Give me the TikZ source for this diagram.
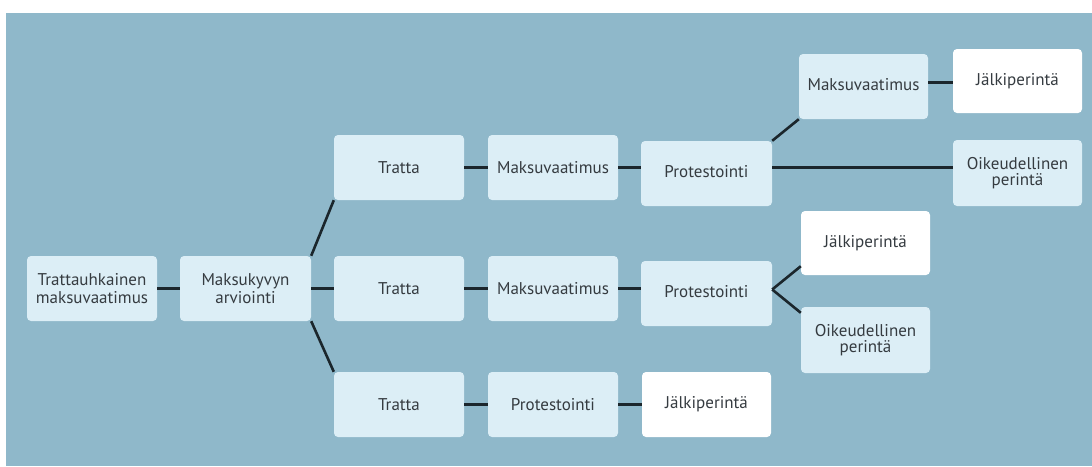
\documentclass[tikz,border=0pt]{standalone}
\usepackage{fontspec}
\setmainfont{PT Sans}
\definecolor{bgblue}{HTML}{8FB8CA}
\definecolor{boxblue}{HTML}{DCEEF6}
\definecolor{txt}{HTML}{353B40}
\definecolor{ln}{HTML}{1B262C}
\tikzset{
  box/.style={rounded corners=4pt, fill=boxblue, text=txt, minimum width=130pt, minimum height=65pt, inner sep=0pt, align=center, font=\fontsize{17}{18.5}\selectfont},
  wbox/.style={box, fill=white},
  conn/.style={draw=ln, line width=2.6pt}
}
\begin{document}
\begin{tikzpicture}[x=1pt,y=-1pt]
\useasboundingbox (0,0) rectangle (1092,466);
\fill[white] (0,0) rectangle (1092,466);
\fill[bgblue] (6,13) rectangle (1092,466);
% column 1-2
\node[box] (a) at (92,288.5) {Trattauhkainen\\maksuvaatimus};
\node[box, minimum width=131pt] (b) at (245.5,288.5) {Maksukyvyn\\arviointi};
% row 1
\node[box] (t1) at (399,167.5) {Tratta};
\node[box] (m1) at (553,167.5) {Maksuvaatimus};
\node[box, minimum width=131pt] (p1) at (706.5,173.5) {\raisebox{5pt}{Protestointi}};
\node[box, minimum width=129pt] (m4) at (863.5,86.5) {\raisebox{4pt}{Maksuvaatimus}};
\node[wbox, minimum width=129pt, minimum height=64pt] (j4) at (1017.5,81) {Jälkiperintä};
\node[box, minimum width=129pt, minimum height=66pt] (o4) at (1017.5,173) {\raisebox{3pt}{\shortstack{Oikeudellinen\\[1pt]perintä}}};
% row 2
\node[box] (t2) at (399,288.5) {Tratta};
\node[box] (m2) at (553,288.5) {Maksuvaatimus};
\node[box, minimum width=131pt] (p2) at (706.5,293.5) {\raisebox{5pt}{Protestointi}};
\node[wbox, minimum width=129pt, minimum height=64pt] (j5) at (865.5,243) {Jälkiperintä};
\node[box, minimum width=129pt, minimum height=66pt] (o5) at (865.5,340) {\raisebox{3pt}{\shortstack{Oikeudellinen\\[1pt]perintä}}};
% row 3
\node[box] (t3) at (399,404.5) {Tratta};
\node[box] (p3) at (553,404.5) {Protestointi};
\node[wbox, minimum width=129pt] (j3) at (706.5,404.5) {Jälkiperintä};
% connectors
\draw[conn] (a) -- (b);
\draw[conn] (b) -- (t2);
\draw[conn] (b.north east) -- (t1.south west);
\draw[conn] (b.south east) -- (t3.north west);
\draw[conn] (t1) -- (m1);
\draw[conn] (m1.east) -- (m1.east -| p1.west);
\draw[conn] (m1.east -| p1.east) -- (m1.east -| o4.west);
\draw[conn] (p1.north east) -- (m4.south west);
\draw[conn] ([yshift=4pt]m4.east) -- ([yshift=4pt]m4.east -| j4.west);
\draw[conn] (t2) -- (m2);
\draw[conn] (m2.east) -- (m2.east -| p2.west);
\draw[conn] ([yshift=4pt]p2.east) -- ([yshift=9pt]j5.south west);
\draw[conn] ([yshift=4pt]p2.east) -- ([yshift=-6pt]o5.north west);
\draw[conn] (t3) -- (p3);
\draw[conn] (p3) -- (j3);
\end{tikzpicture}
\end{document}
